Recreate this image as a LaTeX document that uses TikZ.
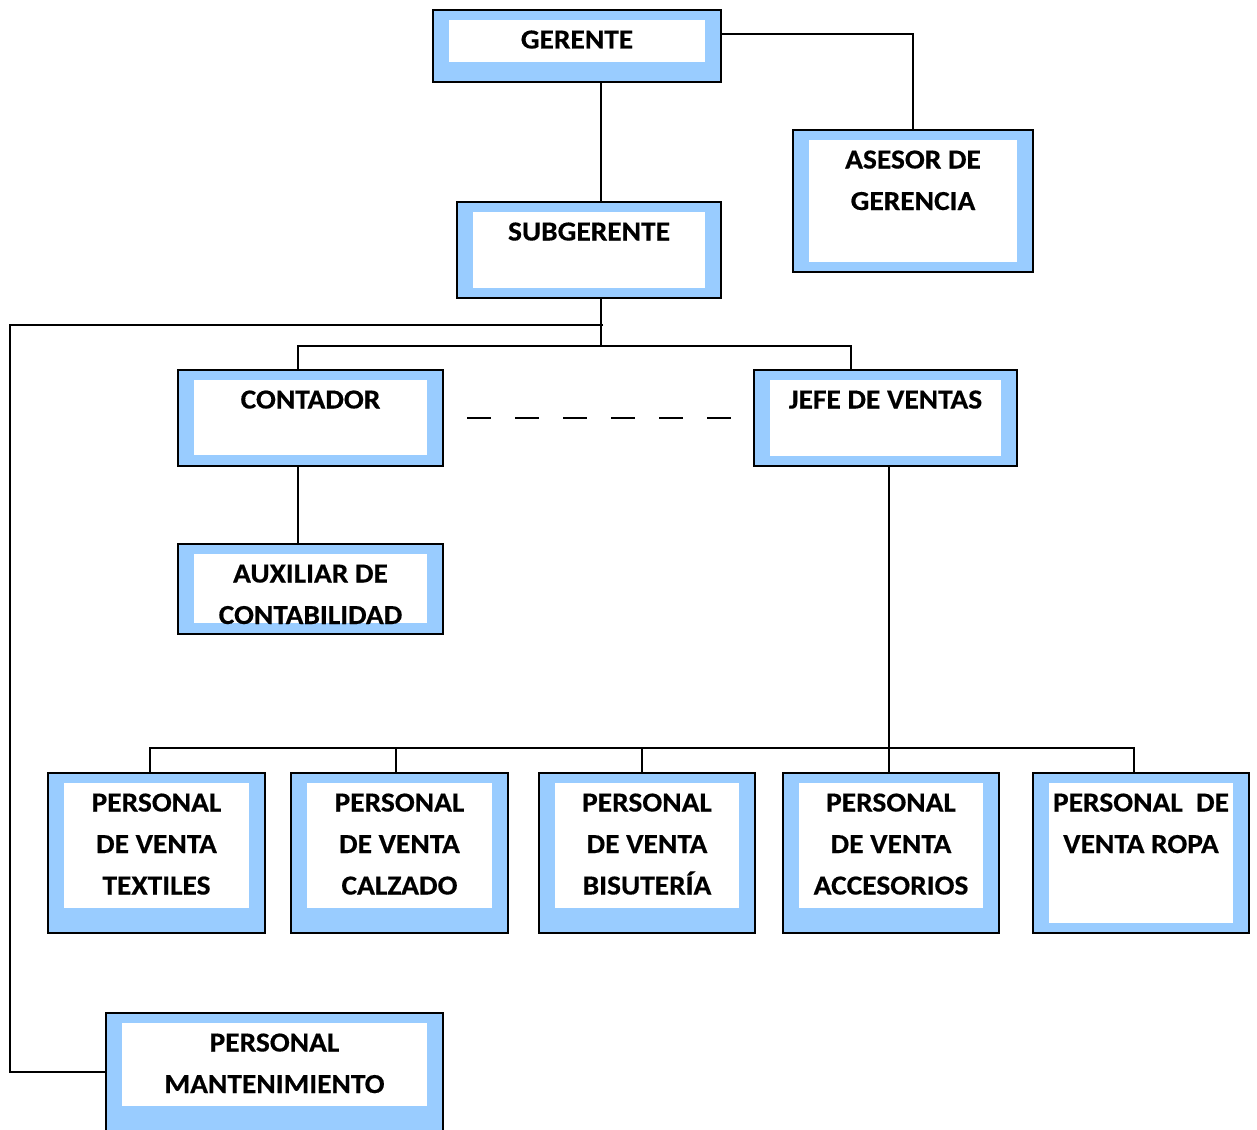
\documentclass[tikz,border=0pt]{standalone}
\usepackage{fontspec}
\setmainfont{Carlito}[BoldFeatures={FakeStretch=1.07,FakeBold=0.4}]
\usetikzlibrary{calc}
\definecolor{framblue}{RGB}{153,204,255}
\tikzset{
  frame/.style={draw=black, fill=framblue, line width=1.6pt, inner sep=0pt, outer sep=0pt, rectangle},
  txt/.style={anchor=base, inner sep=0pt, font=\fontsize{27.5}{41.5}\selectfont\bfseries},
  conn/.style={line width=1.5pt, draw=black}
}
\newcommand\obox[7]{%
  \node[frame, minimum width={(#4-#2)*1pt}, minimum height={(#5-#3)*1pt}] (#1) at ({(#2+#4)/2},{(#3+#5)/2}) {};
  \fill[white] ({#2+16},{#3+10}) rectangle ({#4-16},#6);
  \node[txt] (#1t) at ({(#2+#4)/2},{#3+38.5}) {\begin{tabular}[t]{@{}c@{}}#7\end{tabular}};
}
\begin{document}
\begin{tikzpicture}[x=1pt,y=-1pt]
\useasboundingbox (0,0) rectangle (1257,1129);
\clip (0,0) rectangle (1257,1129);
\fill[white] (0,0) rectangle (1257,1129);
% boxes
\obox{ger}{433}{10}{721}{82}{62}{GERENTE}
\obox{sub}{457}{202}{721}{298}{288}{SUBGERENTE}
\obox{ase}{793}{130}{1033}{272}{262}{ASESOR DE\\GERENCIA}
\obox{con}{178}{370}{443}{466}{455}{CONTADOR}
\obox{jef}{754}{370}{1017}{466}{456}{JEFE DE VENTAS}
\obox{aux}{178}{544}{443}{634}{623}{AUXILIAR DE\\CONTABILIDAD}
\obox{tex}{48}{773}{265}{933}{908}{PERSONAL\\DE VENTA\\TEXTILES}
\obox{cal}{291}{773}{508}{933}{908}{PERSONAL\\DE VENTA\\CALZADO}
\obox{bis}{539}{773}{755}{933}{908}{PERSONAL\\DE VENTA\\BISUTERÍA}
\obox{acc}{783}{773}{999}{933}{908}{PERSONAL\\DE VENTA\\ACCESORIOS}
\obox{rop}{1033}{773}{1249}{933}{923}{PERSONAL\ \ DE\\VENTA ROPA}
\obox{man}{106}{1013}{443}{1131}{1106}{PERSONAL\\MANTENIMIENTO}
% connectors
\draw[conn] ([xshift=24pt]ger.south) -- ([xshift=12pt]sub.north);
\draw[conn] ([yshift=12pt]ger.east) -| (ase.north);
\draw[conn] ([xshift=12pt]sub.south) -- ++(0,48) coordinate (bus);
\draw[conn] ([xshift=-12.5pt]con.north) -- ++(0,-24) -| ([xshift=-34.5pt]jef.north);
\coordinate (m0) at (603,325);
\coordinate (mleft) at (10,325);
\draw[conn] (m0) -- (mleft) |- (man.west);
\draw[conn] ([xshift=-12.5pt]con.south) -- ([xshift=-12.5pt]aux.north);
\draw[conn, dash pattern=on 24pt off 24pt] ([xshift=24pt]con.east) -- ([xshift=-23pt]jef.west);
\draw[conn] ([xshift=3.5pt]jef.south) -- ([xshift=-2pt]acc.north);
\draw[conn] ([xshift=-6.5pt]tex.north) -- ++(0,-25) -| ([xshift=-7pt]rop.north);
\draw[conn] ([xshift=-3.5pt]cal.north) -- ++(0,-25);
\draw[conn] ([xshift=-5pt]bis.north) -- ++(0,-25);
\end{tikzpicture}
\end{document}
